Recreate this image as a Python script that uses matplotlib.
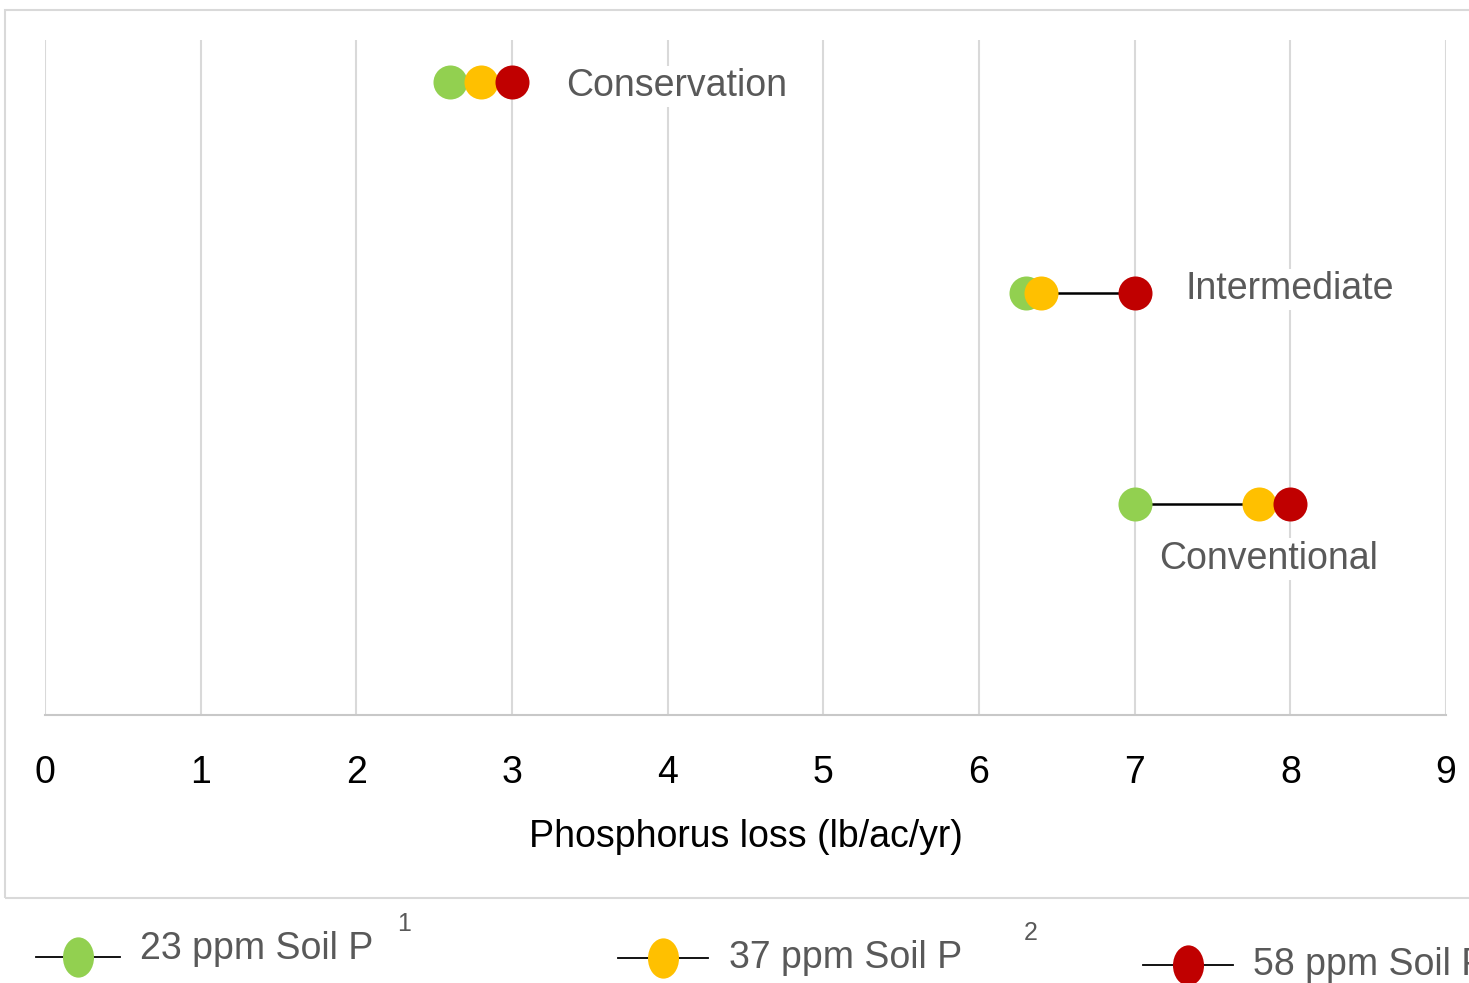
import matplotlib
matplotlib.use('Agg')
import matplotlib.pyplot as plt
from matplotlib.lines import Line2D
from matplotlib.patches import Rectangle
from matplotlib.path import Path
from matplotlib.transforms import Affine2D

plt.rcParams['font.family'] = ['Liberation Sans', 'DejaVu Sans']

# Data
systems = ['Conservation', 'Intermediate', 'Conventional']
soil_23 = [2.6, 6.3, 7.0]
soil_37 = [2.8, 6.4, 7.8]
soil_58 = [3.0, 7.0, 8.0]
series_names = ['23 ppm Soil P', '37 ppm Soil P', '58 ppm Soil P']
colors = ['#92d050', '#ffc000', '#c00000']
x_ticks = list(range(0, 10))

rows = [3, 2, 1]

fig = plt.figure(figsize=(14.69, 9.83), dpi=100)
ax = fig.add_axes([45 / 1469, 1 - 715 / 983, (1446 - 45) / 1469, 675 / 983])

ax.set_xlim(0, 9)
ax.set_ylim(0, 3.2)
ax.set_xticks(x_ticks)
ax.set_yticks([])
ax.grid(axis='x', color='#d9d9d9', linewidth=1.5, zorder=0)
ax.set_axisbelow(True)
for s in ['top', 'left', 'right']:
    ax.spines[s].set_visible(False)
ax.spines['bottom'].set_color('#c8c8c8')
ax.spines['bottom'].set_linewidth(1.5)
ax.tick_params(axis='x', length=0, pad=29, labelsize=27, labelcolor='black')
ax.set_xlabel('Phosphorus loss (lb/ac/yr)', fontsize=27, labelpad=20)

# connector lines
for y, a, b, c in zip(rows, soil_23, soil_37, soil_58):
    ax.plot([min(a, b, c), max(a, b, c)], [y, y], color='black', lw=1.8, zorder=2)

for vals, col in zip([soil_23, soil_37, soil_58], colors):
    ax.plot(vals, rows, linestyle='none', marker='o', markersize=24.5,
            markerfacecolor=col, markeredgewidth=0, zorder=3)

# category labels
bbox = dict(facecolor='white', edgecolor='none', pad=2)
ax.annotate(systems[0], (soil_58[0], rows[0]), xytext=(54, -4), textcoords='offset pixels',
            ha='left', va='center', fontsize=27, color='#595959', bbox=bbox, zorder=4)
ax.annotate(systems[1], (soil_58[1], rows[1]), xytext=(51, 4), textcoords='offset pixels',
            ha='left', va='center', fontsize=27, color='#595959', bbox=bbox, zorder=4)
ax.annotate(systems[2], (soil_58[2], rows[2]), xytext=(-22, -55), textcoords='offset pixels',
            ha='center', va='center', fontsize=27, color='#595959', bbox=bbox, zorder=4)

# outer frame
fig.patches.append(Rectangle((5 / 1469, 1 - 898 / 983), 1.0, 888 / 983,
                             transform=fig.transFigure, fill=False,
                             edgecolor='#d9d9d9', linewidth=1.5))

# legend (manual, below frame)
ellipse = Path.unit_circle().transformed(Affine2D().scale(0.77, 1.0))
leg_pos = [(36, 120, 957, 140, 949, 404, 924, '1'),
           (618, 708, 958, 729, 958, 1031, 933, '2'),
           (1143, 1233, 965, 1253, 965, None, None, None)]
for (x0, x1, ym, tx, ty, sx, sy, sup), name, col in zip(leg_pos, series_names, colors):
    fy = 1 - ym / 983
    fig.add_artist(Line2D([x0 / 1469, x1 / 1469], [fy, fy], transform=fig.transFigure,
                          color='black', lw=1.3))
    fig.add_artist(Line2D([(x0 + x1) / 2 / 1469], [fy], transform=fig.transFigure,
                          marker=ellipse, markersize=29, markerfacecolor=col,
                          markeredgewidth=0, linestyle='none'))
    fig.text(tx / 1469, 1 - ty / 983, name, fontsize=27, color='#595959',
             ha='left', va='center')
    if sup:
        fig.text(sx / 1469, 1 - sy / 983, sup, fontsize=18, color='#595959',
                 ha='center', va='center')

fig.savefig('out.png', dpi=100)
